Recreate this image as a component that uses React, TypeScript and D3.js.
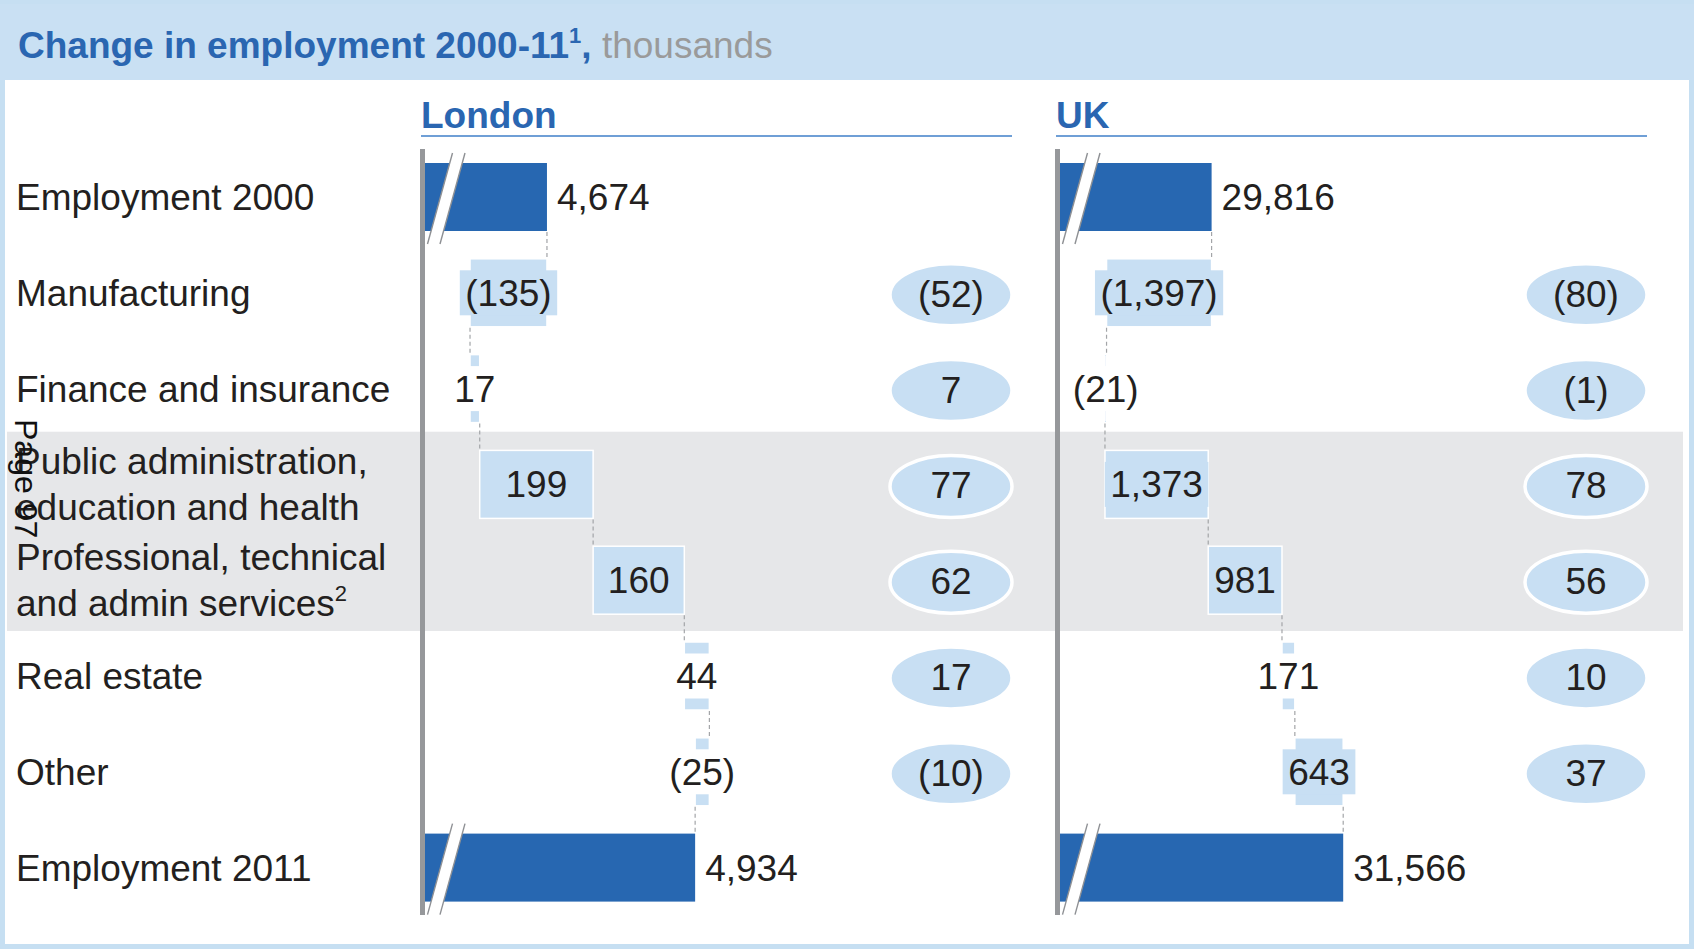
import React from 'react';
import * as d3 from 'd3';

// ---------- DATA ----------
const categories: string[][] = [
  ['Employment 2000'],
  ['Manufacturing'],
  ['Finance and insurance'],
  ['Public administration,', 'education and health'],
  ['Professional, technical', 'and admin services'],
  ['Real estate'],
  ['Other'],
  ['Employment 2011'],
];
const categoryNotes: string[] = ['', '', '', '', '2', '', '', ''];
const shadedRows: number[] = [3, 4];

const panelNames: string[] = ['London', 'UK'];

const londonStart = 4674;
const londonChanges: number[] = [-135, 17, 199, 160, 44, -25];
const londonEnd = 4934;
const londonShares: number[] = [-52, 7, 77, 62, 17, -10];
const londonAxis: number[] = [4460, 5490]; // broken axis visible range

const ukStart = 29816;
const ukChanges: number[] = [-1397, -21, 1373, 981, 171, 643];
const ukEnd = 31566;
const ukShares: number[] = [-80, -1, 78, 56, 10, 37];
const ukAxis: number[] = [27800, 35606];

// ---------- STYLE ----------
const W = 1694;
const H = 949;
const FONT = '"Liberation Sans", Arial, Helvetica, sans-serif';
const DARK = '#2767b1';
const LIGHT = '#c8dff3';
const TITLE_BLUE = '#2a66b1';
const TEXT = '#231f20';
const BAND = '#e6e7e9';
const AXIS = '#96989b';
const FS = 37;

const fmt = d3.format(',');
const fmtSigned = (v: number) => (v < 0 ? `(${fmt(-v)})` : fmt(v));

let _ctx: CanvasRenderingContext2D | null = null;
function textWidth(s: string, size = FS, weight = 'normal') {
  if (!_ctx) _ctx = document.createElement('canvas').getContext('2d');
  if (!_ctx) return s.length * size * 0.55;
  _ctx.font = `${weight} ${size}px ${FONT}`;
  return _ctx.measureText(s).width;
}

const rowY = d3
  .scalePoint<number>()
  .domain(d3.range(categories.length))
  .range([197, 867.6]);
const step = rowY.step();
const BAR_H = 68;
const PANEL_W = 591;

type PanelProps = {
  x0: number;
  name: string;
  start: number;
  changes: number[];
  end: number;
  shares: number[];
  domain: number[];
};

function Panel({ x0, name, start, changes, end, shares, domain }: PanelProps) {
  const barX0 = x0 + 4;
  const x = d3.scaleLinear().domain(domain).range([barX0, x0 + PANEL_W]);
  const cum: number[] = [start];
  changes.forEach((c) => cum.push(cum[cum.length - 1] + c));
  const last = categories.length - 1;

  const totals = [
    { row: 0, value: start },
    { row: last, value: end },
  ];

  const changeBars = changes.map((c, i) => {
    const row = i + 1;
    const a = cum[i];
    const b = cum[i + 1];
    const xa = x(Math.min(a, b));
    const xb = x(Math.max(a, b));
    const label = fmtSigned(c);
    const tw = textWidth(label);
    const bw = xb - xa;
    return { row, xa, xb, bw, label, tw, cx: (xa + xb) / 2 };
  });

  const runAfter = (r: number) => (r === 0 ? start : cum[r]);

  const ellCx = x0 + PANEL_W - 61;

  return (
    <g>
      {/* total bars */}
      {totals.map((t) => {
        const cy = rowY(t.row)!;
        const xr = x(t.value);
        return (
          <g key={'t' + t.row}>
            <rect x={barX0} y={cy - BAR_H / 2} width={xr - barX0} height={BAR_H} fill={DARK} />
            <polygon
              points={`${barX0 + 2.5},${cy + 47} ${barX0 + 15},${cy + 47} ${barX0 + 40},${cy - 44} ${barX0 + 27.5},${cy - 44}`}
              fill="#fff"
            />
            <line x1={barX0 + 2.5} y1={cy + 47} x2={barX0 + 27.5} y2={cy - 44} stroke="#8e9094" strokeWidth={1.4} />
            <line x1={barX0 + 15} y1={cy + 47} x2={barX0 + 40} y2={cy - 44} stroke="#8e9094" strokeWidth={1.4} />
            <text x={xr + 10} y={cy + 13} fontSize={FS} fill={TEXT} fontFamily={FONT}>
              {fmt(t.value)}
            </text>
          </g>
        );
      })}

      {/* change bars */}
      {changeBars.map((d) => {
        const cy = rowY(d.row)!;
        return (
          <rect
            key={'c' + d.row}
            x={d.xa}
            y={cy - BAR_H / 2}
            width={Math.max(d.bw, 0.5)}
            height={BAR_H}
            fill={LIGHT}
            stroke="#fff"
            strokeWidth={1.5}
          />
        );
      })}

      {/* connectors */}
      {d3.range(last).map((r) => {
        const xv = x(runAfter(r));
        return (
          <line
            key={'k' + r}
            x1={xv}
            x2={xv}
            y1={rowY(r)! + BAR_H / 2 + 1}
            y2={rowY(r + 1)! - BAR_H / 2 - 1}
            stroke="#a3a5a8"
            strokeWidth={1.2}
            strokeDasharray="4,3"
          />
        );
      })}

      {/* change labels */}
      {changeBars.map((d) => {
        const cy = rowY(d.row)!;
        const boxW = d.tw + 11;
        const fill = d.bw >= 0.65 * d.tw ? LIGHT : '#fff';
        const showBox = boxW > d.bw;
        return (
          <g key={'l' + d.row}>
            {showBox && (
              <rect x={d.cx - boxW / 2} y={cy - 22.5} width={boxW} height={45} fill={fill} />
            )}
            <text x={d.cx} y={cy + 13} fontSize={FS} fill={TEXT} fontFamily={FONT} textAnchor="middle">
              {d.label}
            </text>
          </g>
        );
      })}

      {/* share ellipses */}
      {shares.map((s, i) => {
        const cy = rowY(i + 1)! + 2;
        return (
          <g key={'e' + i}>
            <ellipse cx={ellCx} cy={cy} rx={61} ry={31} fill={LIGHT} stroke="#fff" strokeWidth={3.5} />
            <text x={ellCx} y={cy + 12} fontSize={FS} fill={TEXT} fontFamily={FONT} textAnchor="middle">
              {fmtSigned(s)}
            </text>
          </g>
        );
      })}

      {/* axis */}
      <line x1={x0 + 1.5} x2={x0 + 1.5} y1={149} y2={915} stroke={AXIS} strokeWidth={5} />

      {/* header */}
      <text x={x0} y={128} fontSize={FS} fontWeight="bold" fill={TITLE_BLUE} fontFamily={FONT}>
        {name}
      </text>
      <line x1={x0} x2={x0 + PANEL_W} y1={136} y2={136} stroke="#6f9fd6" strokeWidth={2} />
    </g>
  );
}

export default function App() {
  const bandTop = rowY(shadedRows[0])! - step * 0.55;
  const bandBottom = rowY(shadedRows[shadedRows.length - 1])! + step * 0.53;

  return (
    <svg
      width={W}
      height={H}
      viewBox={`0 0 ${W} ${H}`}
      style={{ position: 'absolute', left: 0, top: 0, display: 'block', background: '#fff' }}
    >
      {/* frame */}
      <rect x={2.5} y={2.5} width={W - 5} height={H - 5} fill="#fff" stroke="#c6dff2" strokeWidth={5} />
      {/* title band */}
      <rect x={0} y={4} width={W} height={76} fill="#c9e0f3" />
      <text x={18} y={58} fontSize={FS} fontFamily={FONT}>
        <tspan fontWeight="bold" fill={TITLE_BLUE}>Change in employment 2000-11</tspan>
        <tspan fontWeight="bold" fill={TITLE_BLUE} fontSize={22} dy={-15}>1</tspan>
        <tspan fontWeight="bold" fill={TITLE_BLUE} dy={15}>,</tspan>
        <tspan fill="#9a9a9a"> thousands</tspan>
      </text>

      {/* shaded band */}
      <rect x={7} y={bandTop} width={1683 - 7} height={bandBottom - bandTop} fill={BAND} />

      {/* row labels */}
      {categories.map((lines, i) => {
        const cy = rowY(i)!;
        const n = lines.length;
        return (
          <text key={'r' + i} fontSize={FS} fill={TEXT} fontFamily={FONT}>
            {lines.map((ln, j) => (
              <tspan key={j} x={16} y={cy + 13 + (j - (n - 1) / 2) * 46}>
                {ln}
                {j === n - 1 && categoryNotes[i] ? (
                  <tspan fontSize={22} dy={-15}>
                    {categoryNotes[i]}
                  </tspan>
                ) : null}
              </tspan>
            ))}
          </text>
        );
      })}

      <Panel
        x0={421}
        name={panelNames[0]}
        start={londonStart}
        changes={londonChanges}
        end={londonEnd}
        shares={londonShares}
        domain={londonAxis}
      />
      <Panel
        x0={1056}
        name={panelNames[1]}
        start={ukStart}
        changes={ukChanges}
        end={ukEnd}
        shares={ukShares}
        domain={ukAxis}
      />

      {/* page marker */}
      <text transform="translate(15,419) rotate(90)" fontSize={32} fill="#111" fontFamily={FONT}>
        Page 97
      </text>
    </svg>
  );
}
